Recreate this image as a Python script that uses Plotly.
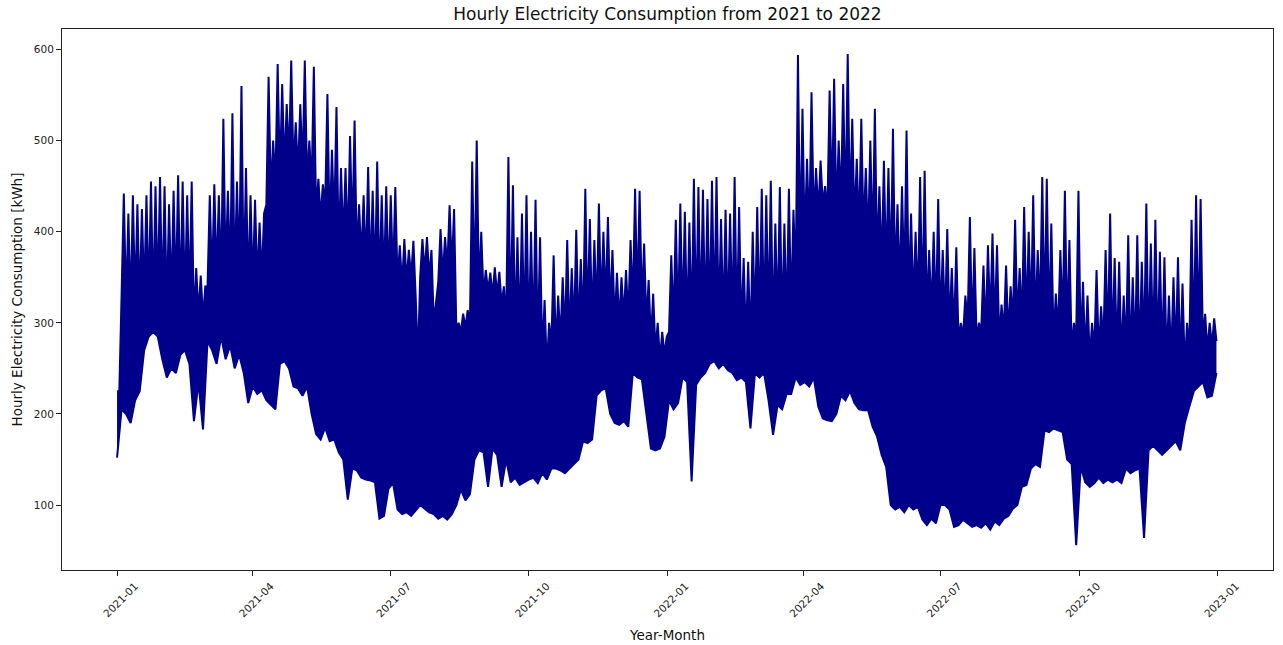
import numpy as np
import pandas as pd
import plotly.graph_objects as go

# Consumption readings (kWh) on a 3-day grid starting 2021-01-01.
# trough_kwh: lowest hourly load around each grid day
# body_kwh:   level the bulk of the hourly load reaches around each grid day
# peak_kwh:   highest hourly load between one grid day and the next
trough_kwh = [
    152, 205, 200, 190, 215, 225, 270, 285, 290, 285,
    260, 240, 250, 245, 265, 270, 255, 192, 235, 183,
    280, 270, 255, 285, 260, 275, 250, 265, 245, 212,
    230, 222, 226, 215, 210, 205, 255, 258, 250, 230,
    228, 220, 230, 200, 178, 172, 185, 170, 172, 158,
    150, 106, 140, 138, 130, 128, 127, 125, 85, 88,
    118, 124, 95, 90, 92, 88, 94, 100, 96, 92,
    90, 85, 88, 84, 90, 100, 117, 105, 112, 150,
    160, 158, 120, 162, 155, 120, 150, 125, 130, 122,
    125, 128, 130, 124, 135, 128, 140, 140, 138, 135,
    140, 145, 150, 170, 168, 172, 220, 226, 228, 200,
    190, 188, 192, 186, 245, 240, 238, 200, 162, 160,
    162, 175, 215, 205, 212, 240, 235, 126, 232, 240,
    245, 255, 258, 250, 255, 248, 245, 237, 240, 235,
    184, 245, 240, 245, 215, 177, 210, 205, 222, 222,
    240, 232, 235, 230, 240, 208, 195, 193, 192, 200,
    220, 215, 225, 212, 205, 204, 204, 186, 175, 155,
    142, 100, 95, 98, 92, 100, 95, 98, 84, 78,
    85, 80, 100, 100, 95, 76, 78, 84, 80, 76,
    78, 75, 80, 73, 82, 78, 85, 88, 96, 100,
    120, 122, 140, 145, 142, 182, 180, 184, 182, 180,
    150, 145, 56, 142, 125, 120, 124, 130, 124, 128,
    125, 128, 124, 140, 135, 138, 140, 64, 160, 165,
    160, 155, 160, 165, 170, 160, 190, 208, 225, 230,
    235, 218, 220, 245,
]
body_kwh = [
    225, 330, 320, 315, 325, 320, 330, 325, 320, 330,
    320, 315, 325, 330, 320, 320, 325, 300, 310, 305,
    340, 345, 350, 345, 355, 350, 345, 355, 340, 335,
    340, 345, 350, 430, 440, 455, 460, 470, 480, 470,
    465, 470, 455, 450, 420, 415, 430, 400, 410, 380,
    390, 385, 395, 375, 370, 360, 350, 345, 340, 345,
    345, 350, 345, 340, 345, 350, 330, 350, 355, 350,
    300, 345, 350, 360, 360, 290, 290, 295, 300, 335,
    335, 330, 335, 330, 330, 320, 300, 295, 290, 290,
    290, 285, 280, 275, 265, 250, 275, 270, 280, 285,
    285, 290, 290, 295, 300, 300, 310, 315, 320, 315,
    300, 300, 305, 305, 320, 325, 320, 300, 280, 270,
    260, 265, 290, 300, 300, 300, 295, 295, 300, 300,
    300, 305, 305, 300, 300, 300, 300, 295, 290, 280,
    275, 300, 300, 300, 300, 290, 300, 295, 300, 310,
    350, 380, 390, 400, 410, 420, 430, 420, 430, 420,
    430, 420, 420, 410, 400, 400, 390, 380, 370, 360,
    355, 350, 345, 340, 340, 330, 320, 320, 315, 310,
    310, 305, 300, 300, 295, 290, 280, 285, 300, 290,
    280, 290, 290, 300, 295, 280, 290, 285, 300, 300,
    300, 300, 305, 300, 310, 305, 295, 280, 290, 300,
    290, 270, 285, 270, 265, 260, 270, 265, 275, 280,
    270, 265, 260, 270, 260, 265, 260, 270, 265, 270,
    265, 260, 255, 260, 265, 255, 250, 270, 280, 285,
    280, 270, 275, 280,
]
peak_kwh = [
    225, 442, 420, 440, 430, 425, 440, 455, 450, 460,
    450, 430, 445, 462, 455, 440, 455, 360, 352, 340,
    440, 452, 440, 524, 445, 530, 455, 560, 470, 440,
    435, 410, 420, 570, 500, 584, 562, 540, 588, 520,
    540, 588, 500, 581, 458, 452, 551, 490, 537, 470,
    470, 505, 522, 430, 440, 471, 445, 477, 440, 450,
    440, 449, 385, 392, 380, 390, 260, 392, 394, 380,
    325, 403, 394, 429, 425, 300, 310, 314, 477, 500,
    400, 358, 355, 361, 356, 340, 482, 451, 394, 420,
    440, 400, 435, 394, 325, 300, 374, 330, 350, 391,
    360, 402, 370, 447, 414, 391, 431, 400, 416, 380,
    355, 350, 358, 391, 447, 445, 387, 347, 332, 300,
    290, 285, 374, 413, 431, 422, 410, 458, 449, 446,
    436, 456, 460, 414, 424, 420, 460, 427, 371, 367,
    400, 427, 447, 440, 456, 409, 449, 409, 447, 424,
    594, 535, 480, 553, 470, 478, 450, 555, 568, 500,
    562, 595, 524, 480, 524, 470, 500, 535, 450, 478,
    470, 513, 430, 450, 511, 420, 400, 460, 467, 380,
    400, 436, 380, 403, 360, 383, 300, 330, 416, 382,
    300, 363, 385, 398, 385, 320, 363, 340, 413, 360,
    427, 400, 440, 380, 460, 458, 409, 332, 380, 445,
    391, 300, 445, 345, 330, 300, 358, 318, 380, 420,
    371, 367, 330, 396, 350, 396, 367, 431, 387, 413,
    378, 372, 330, 350, 372, 343, 300, 413, 440, 436,
    310, 300, 305,
]

tick_dates = [
    "2021-01-01", "2021-04-01", "2021-07-01", "2021-10-01", "2022-01-01",
    "2022-04-01", "2022-07-01", "2022-10-01", "2023-01-01",
]
tick_labels = [
    "2021-01", "2021-04", "2021-07", "2021-10", "2022-01",
    "2022-04", "2022-07", "2022-10", "2023-01",
]
y_ticks = [100, 200, 300, 400, 500, 600]

LINE_COLOR = "#00008B"

start = pd.Timestamp("2021-01-01")
grid_time = start + pd.to_timedelta(3 * np.arange(len(trough_kwh)), unit="D")
peak_time = grid_time[: len(peak_kwh)] + pd.Timedelta(hours=36)

# Upper edge of the load: bulk level on grid days, peaks in between
upper_t, upper_v = [], []
for i, t in enumerate(grid_time):
    upper_t.append(t)
    upper_v.append(body_kwh[i])
    if i < len(peak_kwh):
        upper_t.append(peak_time[i])
        upper_v.append(peak_kwh[i])

fig = go.Figure()
fig.add_trace(
    go.Scatter(
        x=grid_time,
        y=trough_kwh,
        mode="lines",
        line=dict(color=LINE_COLOR, width=2),
        hoverinfo="x+y",
    )
)
fig.add_trace(
    go.Scatter(
        x=upper_t,
        y=upper_v,
        mode="lines",
        line=dict(color=LINE_COLOR, width=2),
        fill="tonexty",
        fillcolor=LINE_COLOR,
        hoverinfo="x+y",
    )
)

x_lo = start - pd.Timedelta(days=36.5)
x_hi = start + pd.Timedelta(days=766.5)

axis_font = dict(family="DejaVu Sans", size=10.5, color="#222")
fig.update_layout(
    width=1283,
    height=645,
    margin=dict(l=62, r=10, t=29, b=75),
    paper_bgcolor="white",
    plot_bgcolor="white",
    showlegend=False,
    title=dict(
        text="Hourly Electricity Consumption from 2021 to 2022",
        x=(62 + 1273) / 2 / 1283,
        xanchor="center",
        y=1 - 14 / 645,
        yanchor="middle",
        font=dict(family="DejaVu Sans", size=17, color="#111"),
    ),
    xaxis=dict(
        range=[x_lo, x_hi],
        automargin=False,
        tickmode="array",
        tickvals=tick_dates,
        ticktext=tick_labels,
        tickangle=-45,
        ticks="outside",
        ticklen=5,
        tickcolor="#222",
        tickfont=axis_font,
        ticklabelshift=18,
        showgrid=False,
        zeroline=False,
        showline=True,
        linecolor="#222",
        linewidth=1,
        mirror=True,
        title=dict(
            text="Year-Month",
            font=dict(family="DejaVu Sans", size=13.5, color="#111"),
            standoff=12,
        ),
    ),
    yaxis=dict(
        range=[28.7, 622.5],
        automargin=False,
        tickmode="array",
        tickvals=y_ticks,
        ticks="outside",
        ticklen=5,
        tickcolor="#222",
        tickfont=axis_font,
        showgrid=False,
        zeroline=False,
        showline=True,
        linecolor="#222",
        linewidth=1,
        mirror=True,
        title=dict(
            text="Hourly Electricity Consumption [kWh]",
            font=dict(family="DejaVu Sans", size=13.5, color="#111"),
            standoff=8,
        ),
    ),
)

fig.write_html("out.html")
